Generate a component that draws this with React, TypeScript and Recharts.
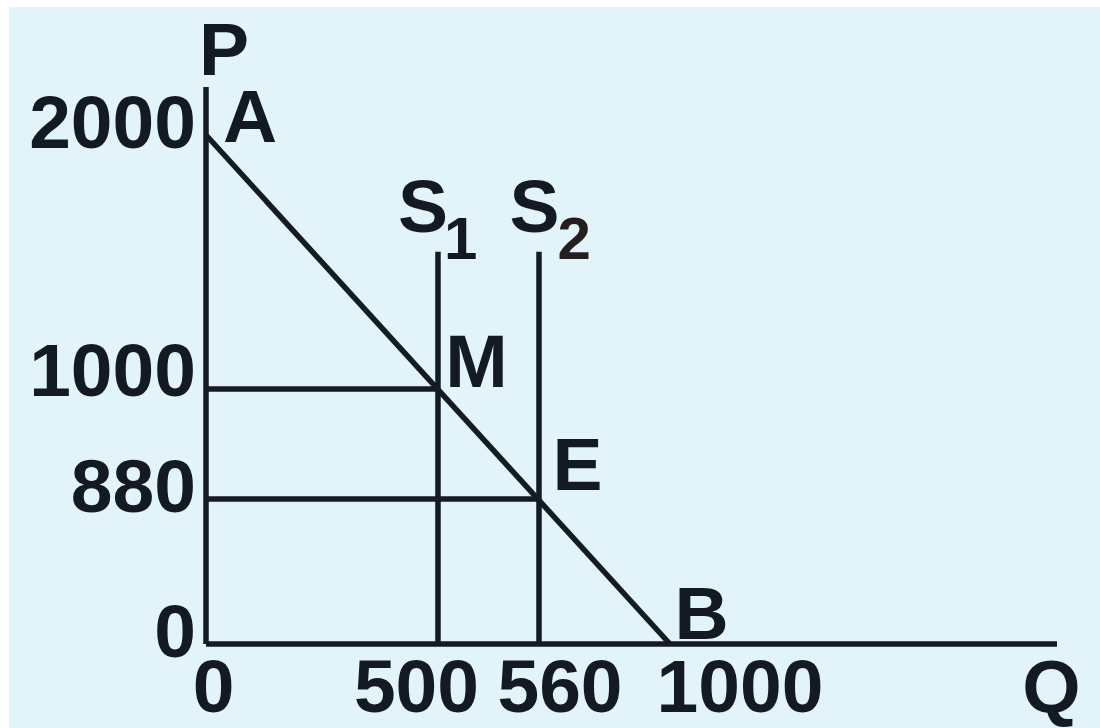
import React from 'react';
import { ComposedChart, Line, XAxis, YAxis, ReferenceDot } from 'recharts';

// values (Q = quantity, P = price)
const qTicks = [0, 500, 560, 1000];
const pTicks = [0, 880, 1000, 2000];
const qMax = 1300;
const pMax = 2200;

const demand = [
    { q: 0, p: 2000 },
    { q: 1000, p: 0 },
];
const supply1 = [
    { q: 500, p: 0 },
    { q: 500, p: 1540 },
];
const supply2 = [
    { q: 560, p: 0 },
    { q: 560, p: 1540 },
];
const guideM = [
    { q: 0, p: 1000 },
    { q: 500, p: 1000 },
];
const guideE = [
    { q: 0, p: 880 },
    { q: 560, p: 880 },
];

const points = [
    { name: 'A', q: 0, p: 2000 },
    { name: 'M', q: 500, p: 1000 },
    { name: 'E', q: 560, p: 880 },
    { name: 'B', q: 1000, p: 0 },
];

// the drawing is a sketch, not to scale: piecewise scale through the labelled values
const qStops = [0, 500, 560, 1000, qMax];
const qStopPos = [0, 0.2726, 0.3913, 0.5452, 1];
const pStops = [0, 880, 1000, 2000, pMax];
const pStopPos = [0, 0.2603, 0.4578, 0.9138, 1];

function sketchScale(stops: number[], pos: number[]): any {
    let dom: number[] = [stops[0], stops[stops.length - 1]];
    let rng: number[] = [0, 1];
    const scale: any = (v: number) => {
        let i = 0;
        while (i < stops.length - 2 && v > stops[i + 1]) i++;
        const t = pos[i] + ((v - stops[i]) / (stops[i + 1] - stops[i])) * (pos[i + 1] - pos[i]);
        return rng[0] + t * (rng[1] - rng[0]);
    };
    scale.domain = (d?: number[]) => {
        if (d === undefined) return dom;
        dom = d;
        return scale;
    };
    scale.range = (r?: number[]) => {
        if (r === undefined) return rng;
        rng = r;
        return scale;
    };
    scale.copy = () => sketchScale(stops, pos).domain(dom).range(rng);
    scale.ticks = () => stops;
    return scale;
}

const INK = '#131a21';
const LINE = '#141b22';
const BG = '#e2f3fa';
const STROKE = 5.5;
const font = {
    fontFamily: '"Liberation Sans", Arial, sans-serif',
    fontWeight: 700,
    fontSize: 75,
    fill: INK,
};

const yTickDy: Record<number, number> = { 0: 13, 880: 13, 1000: 7, 2000: 13 };
const xTickDx: Record<number, number> = { 0: 7.5, 500: -21.5, 560: 21, 1000: 70 };

const PTick = ({ x, y, payload }: any) => (
    <text x={x - 10} y={y + (yTickDy[payload.value] ?? 12)} textAnchor="end" style={font}>
        {payload.value}
    </text>
);

const QTick = ({ x, y, payload }: any) => (
    <text x={x + (xTickDx[payload.value] ?? 0)} y={y + 68} textAnchor="middle" style={font}>
        {payload.value}
    </text>
);

const Letter = ({ viewBox, text, dx, dy }: any) => {
    if (!viewBox) return null;
    return (
        <text x={viewBox.x + dx} y={viewBox.y + dy} textAnchor="middle" style={font}>
            {text}
        </text>
    );
};

const SupplyLabel = ({ viewBox, num, dx, subDx, subFill }: any) => {
    if (!viewBox) return null;
    return (
        <text x={viewBox.x + dx} y={viewBox.y - 20} textAnchor="start" style={font}>
            S
            <tspan dx={subDx} dy={27} style={{ fontSize: 60, fill: subFill }}>
                {num}
            </tspan>
        </text>
    );
};

const pointOffsets: Record<string, [number, number]> = {
    A: [44, 7],
    M: [38.5, -2],
    E: [38.5, -9.5],
    B: [31.5, -5],
};

const lineProps = {
    type: 'linear' as const,
    dataKey: 'p',
    stroke: LINE,
    strokeWidth: STROKE,
    dot: false,
    activeDot: false,
    isAnimationActive: false,
};

export default function App() {
    return (
        <div style={{ position: 'fixed', left: 9, top: 7, width: 1091, height: 721, background: BG }}>
            <ComposedChart width={1091} height={721} margin={{ top: 80, right: 43, bottom: 83, left: 196 }}>
                <XAxis
                    type="number"
                    dataKey="q"
                    domain={[0, qMax]}
                    scale={sketchScale(qStops, qStopPos)}
                    ticks={qTicks}
                    interval={0}
                    height={1}
                    tickSize={0}
                    tickMargin={0}
                    tickLine={false}
                    tick={<QTick />}
                    axisLine={{ stroke: LINE, strokeWidth: STROKE }}
                />
                <YAxis
                    type="number"
                    dataKey="p"
                    domain={[0, pMax]}
                    scale={sketchScale(pStops, pStopPos)}
                    ticks={pTicks}
                    interval={0}
                    width={1}
                    tickSize={0}
                    tickMargin={0}
                    tickLine={false}
                    tick={<PTick />}
                    axisLine={{ stroke: LINE, strokeWidth: STROKE }}
                />
                <Line {...lineProps} data={guideM} />
                <Line {...lineProps} data={guideE} />
                <Line {...lineProps} data={supply1} />
                <Line {...lineProps} data={supply2} />
                <Line {...lineProps} data={demand} />
                {points.map((pt) => (
                    <ReferenceDot
                        key={pt.name}
                        x={pt.q}
                        y={pt.p}
                        r={0}
                        fill="none"
                        stroke="none"
                        label={<Letter text={pt.name} dx={pointOffsets[pt.name][0]} dy={pointOffsets[pt.name][1]} />}
                    />
                ))}
                <ReferenceDot x={0} y={pMax} r={0} fill="none" stroke="none" label={<Letter text="P" dx={18} dy={-12} />} />
                <ReferenceDot x={qMax} y={0} r={0} fill="none" stroke="none" label={<Letter text="Q" dx={-5.5} dy={68} />} />
                <ReferenceDot
                    x={supply1[1].q}
                    y={supply1[1].p}
                    r={0}
                    fill="none"
                    stroke="none"
                    label={<SupplyLabel num="1" dx={-40} subDx={-4} subFill={INK} />}
                />
                <ReferenceDot
                    x={supply2[1].q}
                    y={supply2[1].p}
                    r={0}
                    fill="none"
                    stroke="none"
                    label={<SupplyLabel num="2" dx={-29.5} subDx={-2} subFill="#231f20" />}
                />
            </ComposedChart>
        </div>
    );
}
